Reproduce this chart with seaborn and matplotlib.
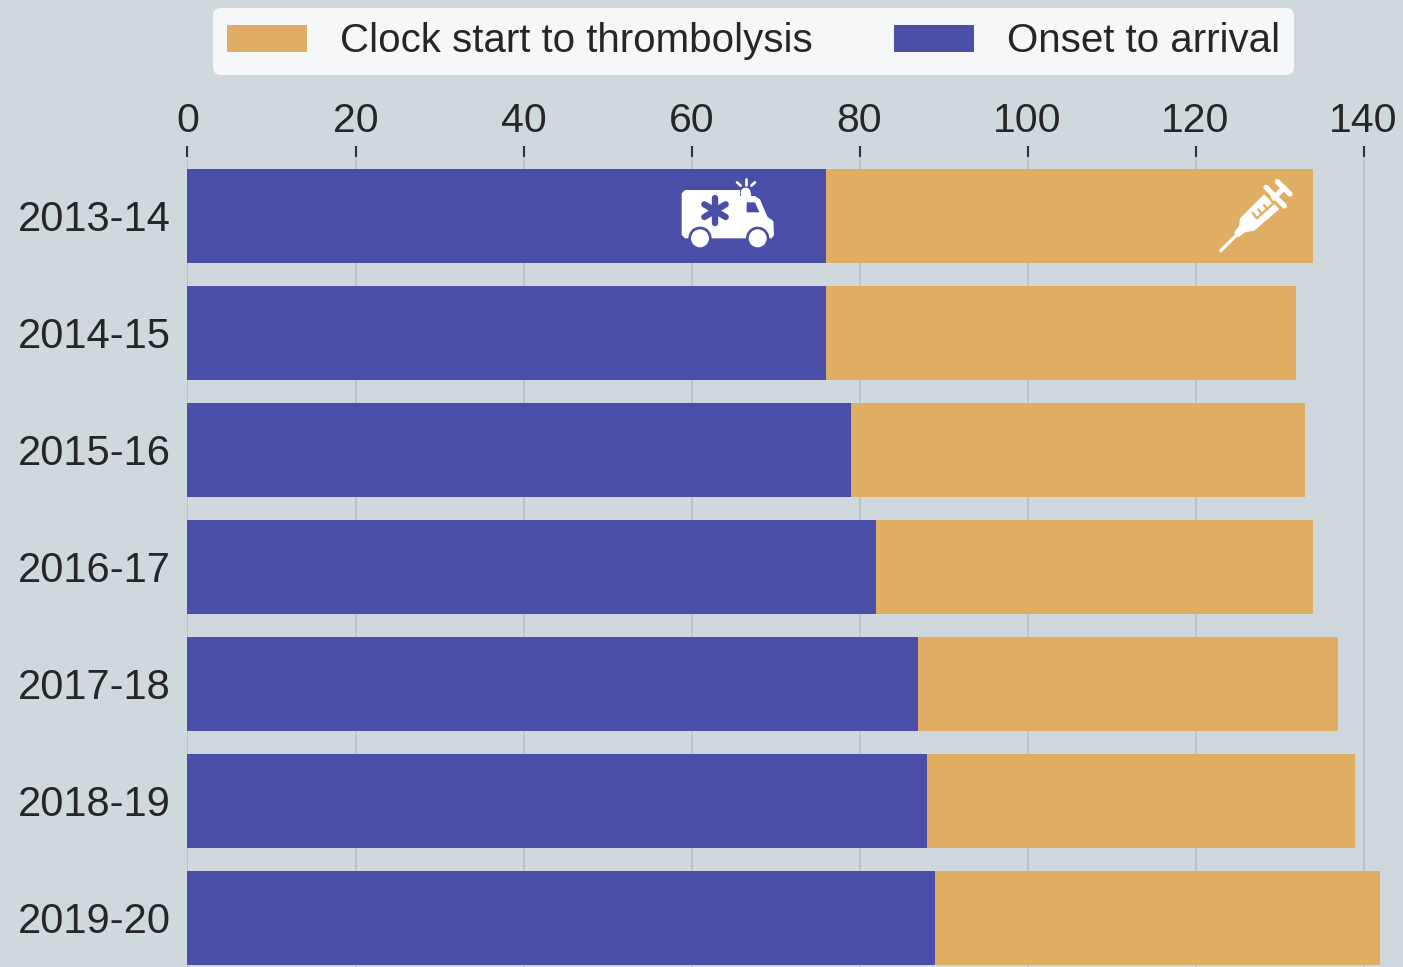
import matplotlib
matplotlib.use("Agg")
import matplotlib.pyplot as plt
import seaborn as sns
from matplotlib.patches import Patch, Circle, Polygon
from matplotlib.transforms import Affine2D

years = ["2013-14", "2014-15", "2015-16", "2016-17", "2017-18", "2018-19", "2019-20"]
onset_to_arrival = [76, 76, 79, 82, 87, 88, 89]
clock_to_thrombolysis = [58, 56, 54, 52, 50, 51, 53]
xticks = [0, 20, 40, 60, 80, 100, 120, 140]

BG = "#cfd8dc"
BLUE = "#4a4ea8"
ORANGE = "#e0ae62"
W, H = 1403, 967


def zoom_transform(x0, y0):
    """Draw in 3x zoomed pixel coords, origin top left of the crop."""
    return Affine2D().scale(1 / 3, -1 / 3).translate(x0, H - y0)


def draw_ambulance(fig):
    tr = zoom_transform(660, 160)
    body = [(65, 100), (75, 90), (240, 90), (240, 108), (285, 108), (300, 118), (322, 170), (340, 183),
            (342, 225), (335, 235), (75, 235), (65, 225)]
    fig.add_artist(Polygon(body, closed=True, fc="white", ec="none", transform=tr))
    fig.add_artist(Circle((257, 98), 15, fc="white", ec="none", transform=tr))
    fig.add_artist(Polygon([(242, 98), (272, 98), (272, 110), (242, 110)], fc="white", ec="none", transform=tr))
    fig.add_artist(Polygon([(260, 127), (285, 127), (298, 157), (260, 157)], fc=BLUE, ec="none", transform=tr))
    for cx in [120, 293]:
        fig.add_artist(Circle((cx, 235), 35, fc=BLUE, ec="none", transform=tr))
        fig.add_artist(Circle((cx, 235), 27, fc="white", ec="none", transform=tr))
    for a, b in [((165, 114), (165, 188)), ((133, 133), (197, 171)), ((133, 171), (197, 133))]:
        fig.add_artist(plt.Line2D([a[0], b[0]], [a[1], b[1]], color=BLUE, lw=4.6, transform=tr))
    for a, b in [((257, 58), (257, 76)), ((231, 67), (242, 77)), ((285, 67), (274, 77))]:
        fig.add_artist(plt.Line2D([a[0], b[0]], [a[1], b[1]], color="white", lw=1.9, transform=tr))


def draw_syringe(fig):
    tr = zoom_transform(1190, 90)
    barrel = [(150, 385), (222, 313), (268, 357), (193, 422), (165, 427), (145, 442), (132, 428), (147, 408)]
    fig.add_artist(Polygon(barrel, closed=True, fc="white", ec="none", transform=tr))
    lines = [((92, 482), (140, 435), 2.4), ((228, 292), (283, 348), 3.8),
             ((250, 325), (282, 293), 3.8), ((262, 275), (300, 312), 3.8)]
    for a, b, lw in lines:
        fig.add_artist(plt.Line2D([a[0], b[0]], [a[1], b[1]], color="white", lw=lw, solid_capstyle="round",
                                  transform=tr))
    comb = [[(188, 368), (200, 385), (250, 340)], [(205, 358), (215, 372)], [(222, 345), (232, 358)],
            [(240, 325), (250, 340)]]
    for pts in comb:
        xs, ys = zip(*pts)
        fig.add_artist(plt.Line2D(xs, ys, color=ORANGE, lw=1.6, transform=tr))


sns.set_style("white", {"axes.facecolor": BG, "figure.facecolor": BG})
plt.rcParams["font.family"] = ["Liberation Sans", "DejaVu Sans"]

fig = plt.figure(figsize=(W / 100, H / 100), dpi=100, facecolor=BG)
ax = fig.add_axes([187.5 / W, 0, (W - 187.5) / W, (H - 157) / H])
ax.set_facecolor(BG)

totals = [a + b for a, b in zip(onset_to_arrival, clock_to_thrombolysis)]
sns.barplot(x=totals, y=years, color=ORANGE, saturation=1, width=94 / 117, orient="h", ax=ax, zorder=3,
            linewidth=0)
sns.barplot(x=onset_to_arrival, y=years, color=BLUE, saturation=1, width=94 / 117, orient="h", ax=ax, zorder=4,
            linewidth=0)

ax.set_xlim(0, (W - 187.5) / 8.4)
ax.set_ylim(6.419, -0.504)
ax.set_xticks(xticks)
ax.xaxis.tick_top()
ax.tick_params(axis="x", length=11 * 0.72, width=1.5, color="#333333", labelsize=29.5, labelcolor="#262626", pad=4)
ax.tick_params(axis="y", length=0, labelsize=30, labelcolor="#262626", pad=12)
ax.grid(axis="x", color="#b8c0c3", lw=1.2, zorder=1)
ax.set_axisbelow(True)
sns.despine(ax=ax, left=True, bottom=True, right=True, top=True)
ax.set_xlabel("")
ax.set_ylabel("")

handles = [Patch(fc=ORANGE, ec="none", label="Clock start to thrombolysis"),
           Patch(fc=BLUE, ec="none", label="Onset to arrival")]
fig.legend(handles=handles, ncol=2, loc="center", bbox_to_anchor=(753.5 / W, 1 - 41.5 / H), fontsize=29,
           frameon=True, facecolor="#f5f7f9", edgecolor="none", framealpha=1, fancybox=True,
           handlelength=1.99, handleheight=0.68, handletextpad=0.82, columnspacing=2.0,
           borderpad=0.35, labelcolor="#262626", borderaxespad=0)

draw_ambulance(fig)
draw_syringe(fig)

fig.savefig("out.png", dpi=100, facecolor=BG)
plt.close(fig)
